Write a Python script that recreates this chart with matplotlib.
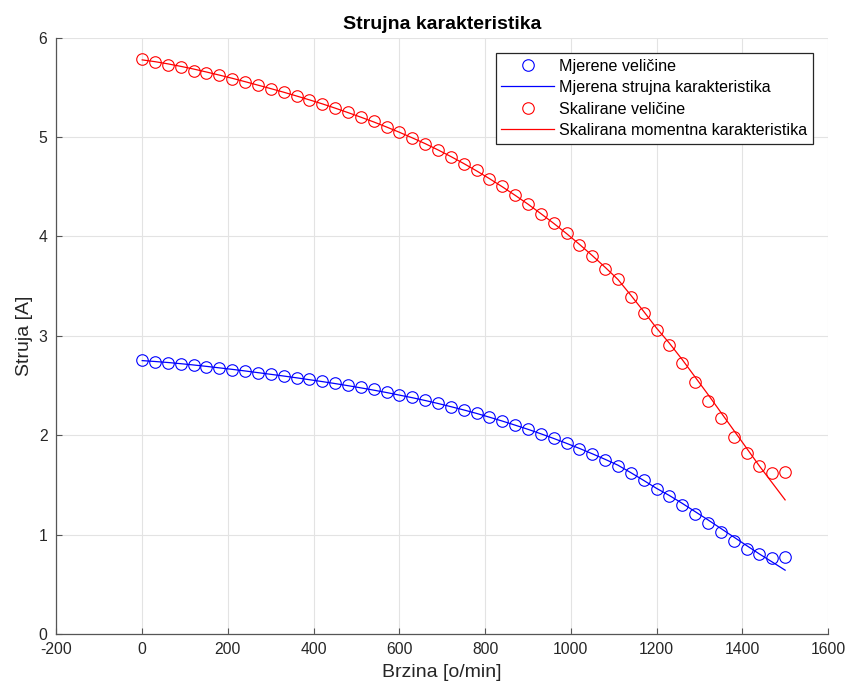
import matplotlib
matplotlib.use("Agg")
import matplotlib.pyplot as plt

speed = [0, 30, 60, 90, 120, 150, 180, 210, 240, 270, 300, 330, 360, 390, 420, 450,
         480, 510, 540, 570, 600, 630, 660, 690, 720, 750, 780, 810, 840, 870, 900,
         930, 960, 990, 1020, 1050, 1080, 1110, 1140, 1170, 1200, 1230, 1260, 1290,
         1320, 1350, 1380, 1410, 1440, 1470, 1500]

measured = [2.752, 2.738, 2.725, 2.716, 2.702, 2.690, 2.676, 2.659, 2.645, 2.628,
            2.613, 2.597, 2.578, 2.562, 2.544, 2.525, 2.503, 2.482, 2.460, 2.435,
            2.406, 2.380, 2.349, 2.320, 2.284, 2.254, 2.221, 2.180, 2.144, 2.105,
            2.062, 2.015, 1.970, 1.921, 1.864, 1.810, 1.750, 1.690, 1.618, 1.545,
            1.460, 1.389, 1.300, 1.210, 1.114, 1.030, 0.940, 0.859, 0.802, 0.768, 0.772]

measured_fit = [2.750, 2.741, 2.731, 2.719, 2.706, 2.692, 2.677, 2.662, 2.646, 2.629,
                2.612, 2.595, 2.577, 2.558, 2.539, 2.519, 2.498, 2.476, 2.453, 2.429,
                2.403, 2.377, 2.349, 2.319, 2.287, 2.254, 2.219, 2.181, 2.142, 2.101,
                2.059, 2.014, 1.967, 1.918, 1.867, 1.813, 1.757, 1.698, 1.623, 1.545,
                1.465, 1.393, 1.314, 1.231, 1.148, 1.062, 0.976, 0.890, 0.805, 0.724, 0.642]

scaled = [5.786, 5.752, 5.728, 5.705, 5.668, 5.645, 5.618, 5.584, 5.554, 5.520,
          5.487, 5.454, 5.410, 5.376, 5.336, 5.292, 5.248, 5.198, 5.158, 5.101,
          5.049, 4.990, 4.932, 4.866, 4.795, 4.729, 4.664, 4.580, 4.503, 4.413,
          4.329, 4.225, 4.135, 4.034, 3.916, 3.799, 3.671, 3.570, 3.390, 3.230,
          3.060, 2.910, 2.725, 2.537, 2.339, 2.171, 1.986, 1.819, 1.691, 1.624, 1.631]

scaled_fit = [5.775, 5.757, 5.735, 5.710, 5.683, 5.653, 5.622, 5.590, 5.556, 5.521,
              5.486, 5.450, 5.412, 5.373, 5.333, 5.290, 5.245, 5.199, 5.151, 5.100,
              5.047, 4.991, 4.933, 4.870, 4.803, 4.733, 4.659, 4.581, 4.499, 4.413,
              4.324, 4.229, 4.131, 4.028, 3.920, 3.807, 3.689, 3.566, 3.408, 3.245,
              3.077, 2.925, 2.760, 2.585, 2.410, 2.230, 2.050, 1.870, 1.690, 1.520, 1.349]

labels = ["Mjerene veličine", "Mjerena strujna karakteristika",
          "Skalirane veličine", "Skalirana momentna karakteristika"]
xticks = [-200, 0, 200, 400, 600, 800, 1000, 1200, 1400, 1600]
yticks = [0, 1, 2, 3, 4, 5, 6]

plt.rcParams['font.family'] = ['Liberation Sans', 'DejaVu Sans']
plt.rcParams['axes.unicode_minus'] = False
dark = '#262626'

fig = plt.figure(figsize=(8.52, 6.91), dpi=100)
ax = fig.add_axes([0.0663, 0.0825, 0.9055, 0.8632])

ax.plot(speed, measured, 'o', mfc='none', mec='#0000ff', ms=8.3, mew=0.8, label=labels[0])
ax.plot(speed, measured_fit, '-', color='#0000ff', lw=0.9, label=labels[1])
ax.plot(speed, scaled, 'o', mfc='none', mec='#ff0000', ms=8.3, mew=0.8, label=labels[2])
ax.plot(speed, scaled_fit, '-', color='#ff0000', lw=0.9, label=labels[3])

ax.set_xlim(-200, 1600)
ax.set_ylim(0, 6)
ax.set_xticks(xticks)
ax.set_yticks(yticks)
ax.grid(True, color='#e3e3e3', lw=0.8)
ax.set_axisbelow(True)
for s in ['top', 'right']:
    ax.spines[s].set_visible(False)
for s in ['left', 'bottom']:
    ax.spines[s].set_color('#555555')
    ax.spines[s].set_linewidth(0.9)
ax.tick_params(direction='in', length=4, width=0.8, colors='#555555',
               labelcolor=dark, labelsize=11.3)
ax.tick_params(axis='y', pad=6.5)
ax.tick_params(axis='x', pad=6)

ax.set_xlabel("Brzina [o/min]", fontsize=14, color=dark, labelpad=5)
ax.set_ylabel("Struja [A]", fontsize=14, color=dark, labelpad=4)
ax.set_title("Strujna karakteristika", fontsize=14, fontweight='bold', color='black', pad=6)

leg = ax.legend(loc='upper right', bbox_to_anchor=(0.9806, 0.974), borderaxespad=0,
                fontsize=11.6, fancybox=False, framealpha=1, edgecolor=dark,
                handlelength=3.3, handletextpad=0.3, borderpad=0.35, labelspacing=0.4)
leg.get_frame().set_linewidth(0.9)

fig.savefig("out.png", dpi=100)
